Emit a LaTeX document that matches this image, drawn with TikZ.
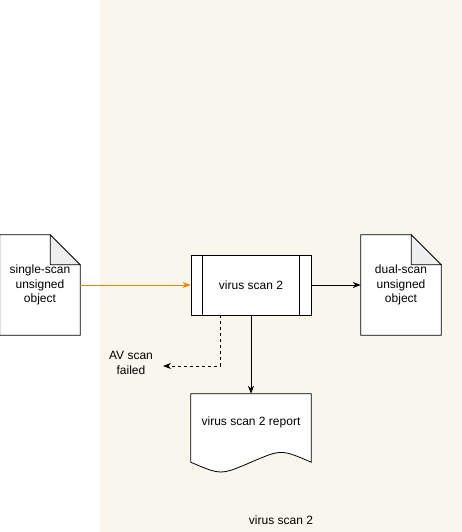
\documentclass[tikz,border=0pt]{standalone}
\usepackage{fontspec}
\setmainfont{Liberation Sans}
\usetikzlibrary{arrows.meta,positioning,calc}
\definecolor{bgbeige}{HTML}{F9F7ED}
\definecolor{foldgray}{HTML}{EEEEEE}
\definecolor{floworange}{HTML}{FF8000}
\pgfdeclarelayer{background}
\pgfsetlayers{background,main}
\tikzset{
  lbl/.style={font=\fontsize{12}{14.5}\selectfont, align=center, inner sep=0pt},
  docbox/.style={lbl, minimum width=80pt, minimum height=100pt},
  docline/.style={draw=black, fill=white, line width=0.8pt, line join=miter},
  procbox/.style={lbl, draw, fill=white, minimum width=120pt, minimum height=60pt, line width=0.8pt},
  flow/.style={-{Stealth[length=8pt,width=6pt,inset=2.5pt]}, line width=0.8pt},
}

\begin{document}
\begin{tikzpicture}[x=1pt,y=-1pt]
\useasboundingbox (0,0) rectangle (462,532);

% nodes
\node[docbox] (single) at (40,285) {single-scan\\unsigned\\object};
\node[procbox] (scan) at (251,285) {virus scan 2};
\node[docbox] (dual) at (401,285) {dual-scan\\unsigned\\object};
\node[lbl, minimum width=120pt, minimum height=56pt] (report) at (251,422) {virus scan 2 report};
\node[lbl] (failed) at (131,363) {AV scan\\failed};
\coordinate (failtip) at (163,366);
\node[lbl] (caption) at (281,520) {virus scan 2};

% process side bars
\draw[line width=0.8pt] ([xshift=12pt]scan.north west) -- ([xshift=12pt]scan.south west);
\draw[line width=0.8pt] ([xshift=-12pt]scan.north east) -- ([xshift=-12pt]scan.south east);

% shapes behind the texts
\begin{pgfonlayer}{background}
\fill[bgbeige] (100,0) rectangle (462,532);
\foreach \d in {single,dual} {
  \draw[docline] (\d.north west) -- ([xshift=-30pt]\d.north east) -- ([yshift=-30pt]\d.north east)
    -- (\d.south east) -- (\d.south west) -- cycle;
  \draw[docline, fill=foldgray] ([xshift=-30pt]\d.north east) -- ([xshift=-30pt,yshift=-30pt]\d.north east)
    -- ([yshift=-30pt]\d.north east) -- cycle;
}
\draw[docline] (report.north west) -- (report.north east) -- ([yshift=-12pt]report.south east)
  .. controls ([xshift=-30pt,yshift=1pt]report.south east) .. ([yshift=-12pt]report.south)
  .. controls ([xshift=30pt,yshift=-25pt]report.south west) .. ([yshift=-12pt]report.south west) -- cycle;
\end{pgfonlayer}

% connectors
\draw[flow, floworange] (single.east) -- (scan.west);
\draw[flow] (scan.east) -- (dual.west);
\draw[flow] (scan.south) -- (report.north);
\draw[flow, dash pattern=on 3pt off 3pt] ($(scan.south west)!0.25!(scan.south east)$) |- (failtip);
\end{tikzpicture}
\end{document}
